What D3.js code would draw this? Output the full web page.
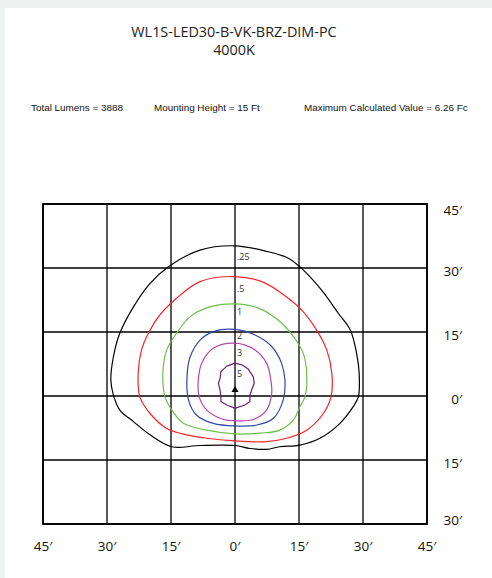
<!DOCTYPE html>
<html>
<head>
<meta charset="utf-8">
<script src="https://cdn.jsdelivr.net/npm/d3@7"></script>
<style>
  html, body { margin: 0; padding: 0; background: #fff; }
  svg { display: block; }
</style>
</head>
<body>
<svg id="chart" width="492" height="578"></svg>
<script>
// ---------- data ----------
const titleLines = ["WL1S-LED30-B-VK-BRZ-DIM-PC", "4000K"];
const infoTexts = ["Total Lumens = 3888", "Mounting Height = 15 Ft", "Maximum Calculated Value = 6.26 Fc"];

const xTicks = [-45, -30, -15, 0, 15, 30, 45];
const yTicks = [45, 30, 15, 0, -15, -30];
const xTickLabels = ["45′", "30′", "15′", "0′", "15′", "30′", "45′"];
const yTickLabels = ["45′", "30′", "15′", "0′", "15′", "30′"];

const levels = [".25", ".5", "1", "2", "3", "5"];
const levelLabelY = [32.6, 25.3, 19.9, 14.1, 10.3, 5.2];

// contour outlines in feet [x, y]
const contour025 = [[0,35.2],[7.8,33.8],[12.5,32.3],[15.6,29.9],[20.3,24.8],[24.2,19.4],[27.0,15.5],[28.5,10.0],[29.1,5.3],[28.9,-0.2],[27.7,-2.5],[24.6,-6.4],[19.9,-9.9],[15.2,-11.5],[10.5,-11.9],[7.4,-12.5],[3.5,-12.3],[0,-11.6],[-8.2,-11.6],[-14.8,-11.9],[-19.9,-9.1],[-23.8,-6.0],[-27.0,-3.3],[-28.5,0.2],[-29.1,3.75],[-28.5,9.2],[-27.0,14.7],[-23.8,20.9],[-19.9,26.4],[-15.6,30.3],[-8.2,34.2]];
const contour05 = [[0,28.0],[6.3,26.8],[10.9,24.1],[15.6,20.2],[19.1,15.5],[21.5,10.8],[22.7,5.3],[22.5,-0.2],[20.7,-4.1],[16.8,-8.0],[12.1,-9.9],[7.4,-10.7],[0,-10.5],[-6.6,-9.9],[-11.3,-9.1],[-16.0,-7.6],[-19.9,-4.1],[-22.3,-0.2],[-22.7,5.3],[-21.9,10.8],[-20.3,14.7],[-17.6,19.0],[-13.7,22.9],[-8.2,26.8]];
const contour1 = [[0,21.6],[5.5,20.6],[10.1,17.8],[13.7,13.9],[16.0,10.0],[16.8,5.3],[16.4,-0.2],[15.2,-2.5],[13.7,-5.6],[10.5,-8.0],[5.9,-8.7],[0,-8.9],[-6.6,-8.0],[-12.1,-6.4],[-14.8,-3.3],[-16.4,-0.2],[-16.9,5.3],[-16.0,10.8],[-13.7,14.7],[-10.5,18.6],[-5.9,20.9]];
const contour2 = [[0,15.6],[4.7,14.3],[8.6,11.6],[10.9,7.7],[11.7,3.75],[11.3,-0.9],[9.0,-5.2],[5.1,-6.8],[0,-7.0],[-5.1,-6.4],[-9.0,-4.5],[-10.9,-0.9],[-11.2,5.3],[-10.5,9.2],[-8.2,13.1],[-5.1,15.1]];
const contour3 = [[0,12.4],[4.7,10.8],[7.4,7.7],[8.4,3.75],[8.6,0.6],[7.4,-3.3],[4.3,-5.5],[0,-5.8],[-2.7,-5.5],[-6.6,-3.3],[-8.4,-0.2],[-8.6,3.75],[-7.8,7.7],[-5.1,11.2]];
const contour5 = [[0,7.7],[1.6,7.3],[3.1,6.3],[4.3,4.5],[4.5,3.0],[3.9,1.4],[3.5,0.2],[3.5,-1.3],[2.3,-2.1],[0,-2.9],[-1.9,-2.1],[-3.3,-1.3],[-3.3,-0.2],[-3.5,1.4],[-3.9,3.0],[-3.5,4.1],[-3.3,5.7],[-1.9,7.0]];
const contours = [contour025, contour05, contour1, contour2, contour3, contour5];
const contourColors = ["#000000", "#f0262a", "#6cbf4a", "#3347a6", "#b247a8", "#6b1f78"];
const luminaire = [0, 1.4];

// ---------- drawing ----------
const svg = d3.select("#chart");

// light frame
svg.append("rect").attr("x", 0).attr("y", 0).attr("width", 492).attr("height", 8).attr("fill", "#eff1f1");
svg.append("rect").attr("x", 0).attr("y", 0).attr("width", 5).attr("height", 578).attr("fill", "#eff1f1");

const x = d3.scaleLinear().domain([-45, 45]).range([43, 427]);
const y = d3.scaleLinear().domain([-30, 45]).range([524, 204]);

// title
svg.selectAll("text.title").data(titleLines).join("text")
  .attr("class", "title")
  .attr("x", 234).attr("y", (d, i) => 31 + i * 18)
  .attr("text-anchor", "middle").attr("dominant-baseline", "central")
  .attr("font-family", "'Open Sans', 'Noto Sans', sans-serif")
  .attr("font-size", 14.4).attr("fill", "#222")
  .text(d => d);

// info row
const infoX = [31, 154, 304];
svg.selectAll("text.info").data(infoTexts).join("text")
  .attr("class", "info")
  .attr("x", (d, i) => infoX[i]).attr("y", 107)
  .attr("dominant-baseline", "central")
  .attr("font-family", "'Liberation Sans', Arial, sans-serif")
  .attr("font-size", 9.9).attr("fill", "#111")
  .text(d => d);

// grid
const grid = svg.append("g");
grid.selectAll("line.v").data(xTicks).join("line")
  .attr("x1", d => x(d)).attr("x2", d => x(d))
  .attr("y1", y(45)).attr("y2", y(-30))
  .attr("stroke", "#000").attr("stroke-width", 1.3);
grid.selectAll("line.h").data(yTicks).join("line")
  .attr("x1", x(-45)).attr("x2", x(45))
  .attr("y1", d => y(d)).attr("y2", d => y(d))
  .attr("stroke", "#000").attr("stroke-width", 1.3);
grid.append("rect")
  .attr("x", x(-45)).attr("y", y(45))
  .attr("width", x(45) - x(-45)).attr("height", y(-30) - y(45))
  .attr("fill", "none").attr("stroke", "#000").attr("stroke-width", 1.8);

// contours
const lineSmooth = d3.line().x(d => x(d[0])).y(d => y(d[1])).curve(d3.curveCatmullRomClosed.alpha(0.5));
const lineSharp = d3.line().x(d => x(d[0])).y(d => y(d[1])).curve(d3.curveLinearClosed);
svg.append("g").selectAll("path").data(contours).join("path")
  .attr("d", (d, i) => i === contours.length - 1 ? lineSharp(d) : lineSmooth(d))
  .attr("fill", "none")
  .attr("stroke", (d, i) => contourColors[i])
  .attr("stroke-width", 1.2)
  .attr("stroke-linejoin", "round");

// level labels
svg.append("g").selectAll("text").data(levels).join("text")
  .attr("x", x(0) + 2).attr("y", (d, i) => y(levelLabelY[i]))
  .attr("dominant-baseline", "central")
  .attr("font-family", "'Open Sans', 'Noto Sans', sans-serif")
  .attr("font-size", 9).attr("fill", "#333")
  .text(d => d);

// luminaire marker
svg.append("path")
  .attr("d", d3.symbol(d3.symbolTriangle, 22)())
  .attr("transform", `translate(${x(luminaire[0])},${y(luminaire[1])})`)
  .attr("fill", "#000");

// axis labels
svg.append("g").selectAll("text").data(xTicks).join("text")
  .attr("x", d => x(d)).attr("y", 546)
  .attr("text-anchor", "middle").attr("dominant-baseline", "central")
  .attr("font-family", "'Open Sans', 'Noto Sans', sans-serif")
  .attr("font-size", 13.5).attr("fill", "#111")
  .text((d, i) => xTickLabels[i]);

svg.append("g").selectAll("text").data(yTicks).join("text")
  .attr("x", 462).attr("y", d => Math.min(Math.max(y(d) + 3, 210), 520))
  .attr("text-anchor", "end").attr("dominant-baseline", "central")
  .attr("font-family", "'Open Sans', 'Noto Sans', sans-serif")
  .attr("font-size", 13.5).attr("fill", "#111")
  .text((d, i) => yTickLabels[i]);
</script>
</body>
</html>
